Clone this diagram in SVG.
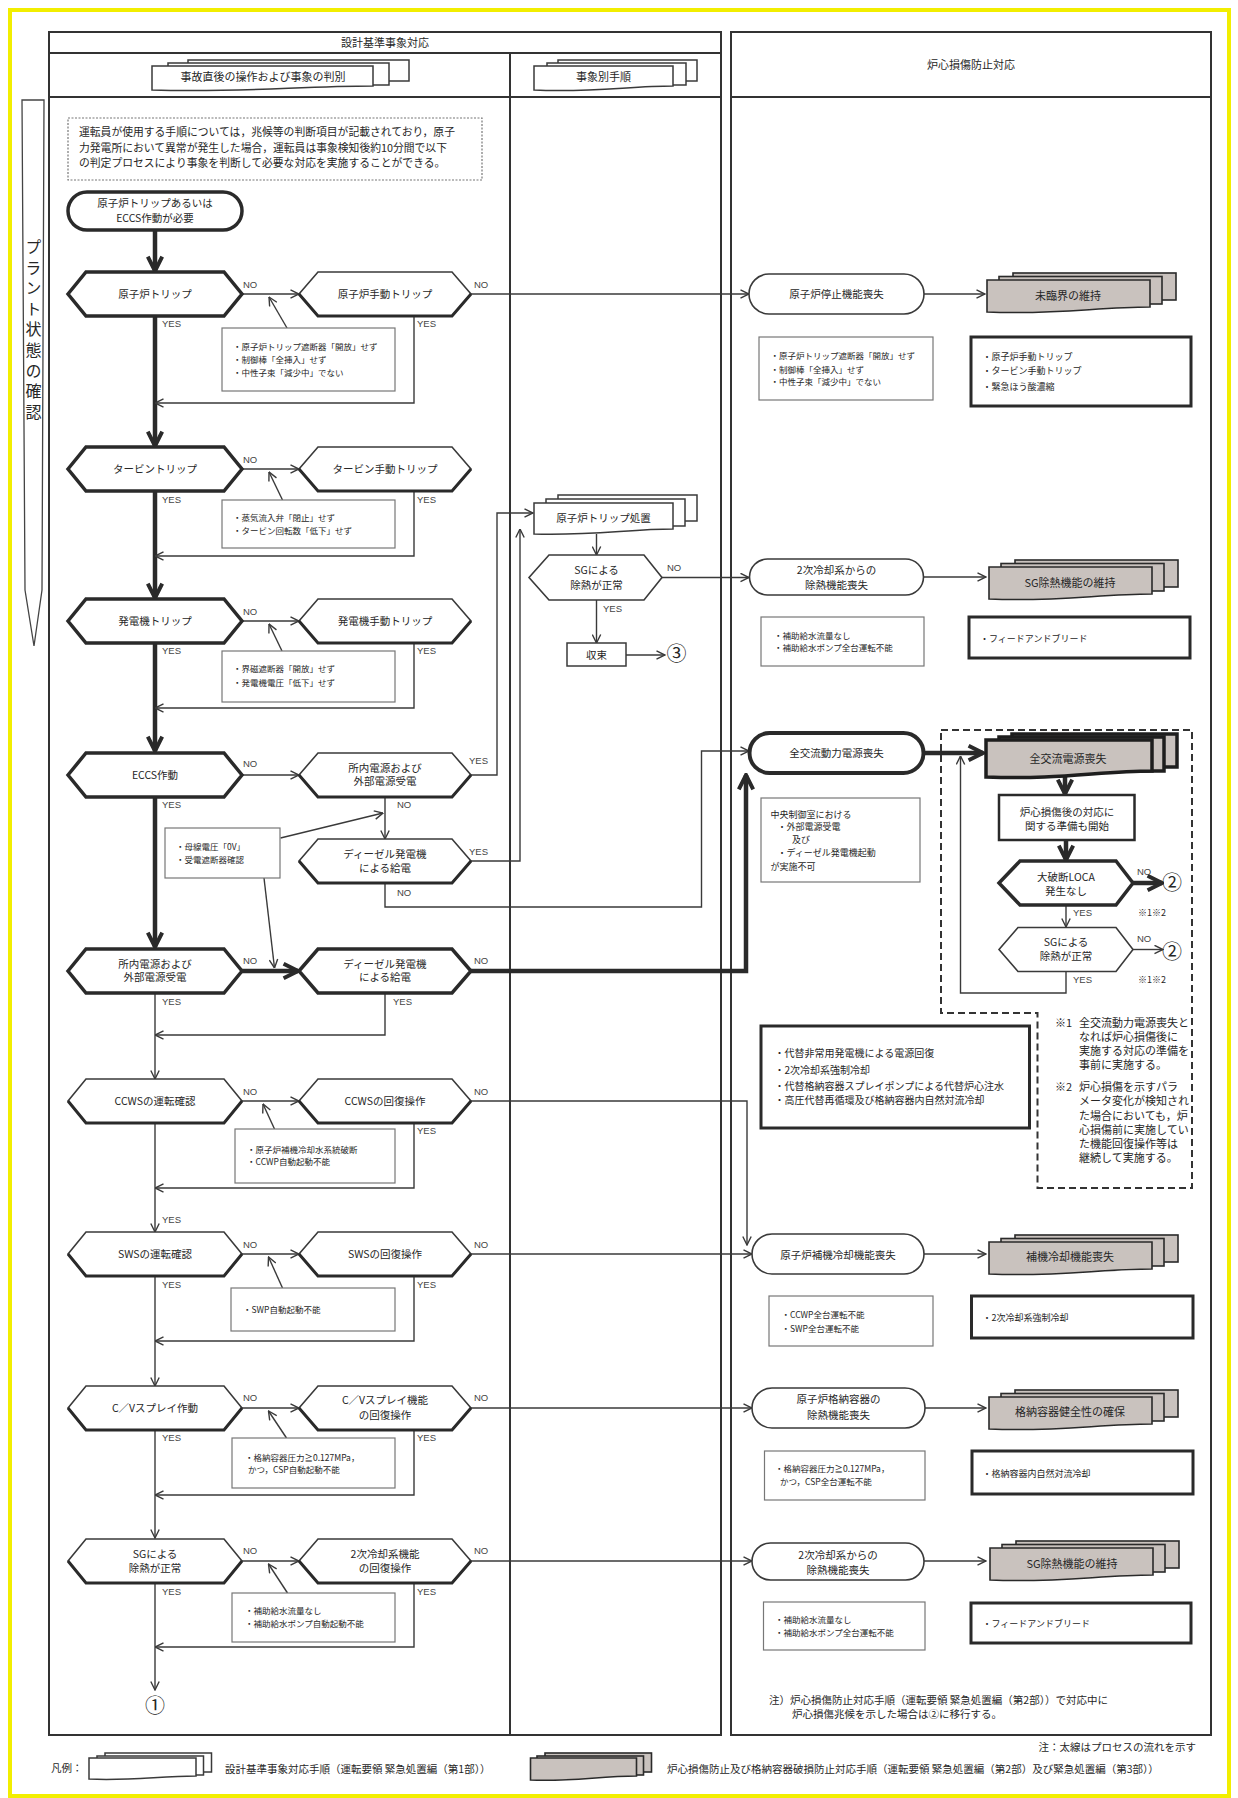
<svg xmlns="http://www.w3.org/2000/svg" xmlns:xlink="http://www.w3.org/1999/xlink" width="1238" height="1798" viewBox="0 0 1238 1798">
<style>
.t{font-family:"Noto Sans CJK JP","Noto Sans CJK SC",sans-serif;fill:#262626}
.m{text-anchor:middle}
.h{font-size:10.5px}
.c{font-size:8.5px}
.c9{font-size:9px}
.big{font-size:20px}
.yn{font-family:"Liberation Sans",Arial,sans-serif;font-size:9.5px;fill:#444}
.ln{stroke:#3a3a3a;stroke-width:1.4;fill:none}
.thk{stroke:#2a2a2a;stroke-width:4.5;fill:none}
.hb{fill:#fff;stroke:#2a2a2a;stroke-width:3.5;stroke-linejoin:miter}
.hn{fill:#fff;stroke:#3a3a3a;stroke-width:1.6}
.hs{fill:none;stroke:#2a2a2a;stroke-width:3}
.cb{fill:#fff;stroke:#777;stroke-width:1.2}
.tb{fill:#fff;stroke:#2a2a2a;stroke-width:3}
.st{fill:#fff;stroke:#3a3a3a;stroke-width:1.6}
.gd{fill:#c9c2be;stroke:#2a2a2a;stroke-width:1.6}
.wd{fill:#fff;stroke:#3a3a3a;stroke-width:1.5}
.fr{fill:none;stroke:#333;stroke-width:2}
</style>
<defs>
<marker id="ah" viewBox="0 0 10 10" refX="9.5" refY="5" markerWidth="10" markerHeight="10" markerUnits="userSpaceOnUse" orient="auto"><path d="M1,0.8 L9.5,5 L1,9.2" fill="none" stroke="#3a3a3a" stroke-width="1.4"/></marker>
<marker id="ahk" viewBox="0 0 10 10" refX="9" refY="5" markerWidth="18" markerHeight="18" markerUnits="userSpaceOnUse" orient="auto"><path d="M1,1 L9,5 L1,9" fill="none" stroke="#2a2a2a" stroke-width="2.2"/></marker>
<g id="gdoc">
<rect x="26" y="-7" width="163" height="27" class="gd"/>
<rect x="12" y="-3.5" width="163" height="27.5" class="gd"/>
<path d="M0,0 H163 V27 C110,27 70,35 0,32 Z" class="gd"/>
</g>
</defs>
<rect width="1238" height="1798" fill="#fff"/>
<rect x="10" y="10" width="1219" height="1786" fill="none" stroke="#f2ee00" stroke-width="4"/>

<g id="frames">
<rect x="49" y="32" width="672" height="1703" class="fr"/>
<line x1="49" y1="53" x2="721" y2="53" class="fr"/>
<line x1="49" y1="97" x2="721" y2="97" class="fr"/>
<line x1="510" y1="53" x2="510" y2="1735" class="fr"/>
<rect x="731" y="32" width="480" height="1703" class="fr"/>
<line x1="731" y1="97" x2="1211" y2="97" class="fr"/>
<text class="t m" x="385" y="47" font-size="11">設計基準事象対応</text>
<text class="t m" x="971" y="69" font-size="11">炉心損傷防止対応</text>
</g>

<g id="hdr-doc1">
<rect x="188" y="60" width="221" height="21" class="wd"/>
<rect x="168" y="63" width="221" height="22" class="wd"/>
<path d="M152,66 H373 V86 C300,86 240,93 152,90 Z" class="wd"/>
<text class="t m" x="263" y="81" font-size="11">事故直後の操作および事象の判別</text>
</g>
<g id="hdr-doc2">
<rect x="558" y="60" width="139" height="21" class="wd"/>
<rect x="547" y="63" width="139" height="22" class="wd"/>
<path d="M534,66 H673 V86 C630,86 590,93 534,90 Z" class="wd"/>
<text class="t m" x="603.5" y="81" font-size="11">事象別手順</text>
</g>

<g id="side-label">
<polygon points="22,100 44,100 42,590 34,646 25,590" fill="#fff" stroke="#444" stroke-width="1.3"/>
<text class="t" font-size="16" x="33.5" y="239" letter-spacing="4.6" style="writing-mode:vertical-rl">プラント状態の確認</text>
</g>

<g id="intro">
<rect x="68" y="118" width="414" height="62" fill="#fff" stroke="#777" stroke-width="1.2" stroke-dasharray="2,1.5"/>
<text class="t" font-size="10.8" x="79" y="136">運転員が使用する手順については，兆候等の判断項目が記載されており，原子</text>
<text class="t" font-size="10.8" x="79" y="152">力発電所において異常が発生した場合，運転員は事象検知後約10分間で以下</text>
<text class="t" font-size="10.8" x="79" y="167">の判定プロセスにより事象を判断して必要な対応を実施することができる。</text>
</g>

<g id="connectors">
<line x1="155" y1="230" x2="155" y2="271" class="thk" marker-end="url(#ahk)"/>
<line x1="155" y1="316" x2="155" y2="446" class="thk" marker-end="url(#ahk)"/>
<line x1="155" y1="491" x2="155" y2="598" class="thk" marker-end="url(#ahk)"/>
<line x1="155" y1="643" x2="155" y2="751" class="thk" marker-end="url(#ahk)"/>
<line x1="155" y1="797" x2="155" y2="947" class="thk" marker-end="url(#ahk)"/>
<line x1="242" y1="971" x2="298" y2="971" class="thk" marker-end="url(#ahk)"/>
<polyline points="471,971 746,971 746,775" class="thk" marker-end="url(#ahk)"/>
<line x1="924" y1="753" x2="983" y2="753" class="thk" marker-end="url(#ahk)"/>
<line x1="1065" y1="777" x2="1065" y2="794" class="thk" marker-end="url(#ahk)"/>
<line x1="1066" y1="840" x2="1066" y2="860" class="thk" marker-end="url(#ahk)"/>
<line x1="1133" y1="883" x2="1162" y2="883" class="thk" marker-end="url(#ahk)"/>
<line x1="155" y1="994" x2="155" y2="1079" class="ln" marker-end="url(#ah)"/>
<line x1="155" y1="1123" x2="155" y2="1232" class="ln" marker-end="url(#ah)"/>
<line x1="155" y1="1276" x2="155" y2="1386" class="ln" marker-end="url(#ah)"/>
<line x1="155" y1="1430" x2="155" y2="1538" class="ln" marker-end="url(#ah)"/>
<line x1="155" y1="1583" x2="155" y2="1690" class="ln" marker-end="url(#ah)"/>
<line x1="242" y1="294" x2="299" y2="294" class="ln" marker-end="url(#ah)"/>
<line x1="242" y1="469" x2="299" y2="469" class="ln" marker-end="url(#ah)"/>
<line x1="242" y1="621" x2="299" y2="621" class="ln" marker-end="url(#ah)"/>
<line x1="242" y1="775" x2="299" y2="775" class="ln" marker-end="url(#ah)"/>
<line x1="242" y1="1101" x2="299" y2="1101" class="ln" marker-end="url(#ah)"/>
<line x1="242" y1="1254" x2="299" y2="1254" class="ln" marker-end="url(#ah)"/>
<line x1="242" y1="1408" x2="299" y2="1408" class="ln" marker-end="url(#ah)"/>
<line x1="242" y1="1561" x2="299" y2="1561" class="ln" marker-end="url(#ah)"/>
<line x1="471" y1="294" x2="749" y2="294" class="ln" marker-end="url(#ah)"/>
<polyline points="471,1101 747,1101 747,1245" class="ln" marker-end="url(#ah)"/>
<line x1="471" y1="1254" x2="752" y2="1254" class="ln" marker-end="url(#ah)"/>
<line x1="471" y1="1408" x2="752" y2="1408" class="ln" marker-end="url(#ah)"/>
<line x1="471" y1="1561" x2="752" y2="1561" class="ln" marker-end="url(#ah)"/>
<polyline points="414,316 414,403 155,403" class="ln" marker-end="url(#ah)"/>
<polyline points="414,491 414,556 155,556" class="ln" marker-end="url(#ah)"/>
<polyline points="414,643 414,708 155,708" class="ln" marker-end="url(#ah)"/>
<polyline points="385,994 385,1035 155,1035" class="ln" marker-end="url(#ah)"/>
<polyline points="414,1123 414,1188 155,1188" class="ln" marker-end="url(#ah)"/>
<polyline points="414,1276 414,1341 155,1341" class="ln" marker-end="url(#ah)"/>
<polyline points="414,1430 414,1495 155,1495" class="ln" marker-end="url(#ah)"/>
<polyline points="414,1583 414,1647 155,1647" class="ln" marker-end="url(#ah)"/>
<polyline points="471,775 497,775 497,513 533,513" class="ln" marker-end="url(#ah)"/>
<line x1="385" y1="797" x2="385" y2="839" class="ln" marker-end="url(#ah)"/>
<polyline points="471,861 520,861 520,529" class="ln" marker-end="url(#ah)"/>
<polyline points="385,883 385,907 701.5,907 701.5,751 749,751" class="ln" marker-end="url(#ah)"/>
<line x1="596.5" y1="534" x2="596.5" y2="555" class="ln" marker-end="url(#ah)"/>
<line x1="662" y1="577.5" x2="749" y2="577.5" class="ln" marker-end="url(#ah)"/>
<line x1="596.5" y1="600" x2="596.5" y2="643" class="ln" marker-end="url(#ah)"/>
<line x1="626" y1="655" x2="665" y2="655" class="ln" marker-end="url(#ah)"/>
<line x1="924" y1="294" x2="985" y2="294" class="ln" marker-end="url(#ah)"/>
<line x1="924" y1="577" x2="986" y2="577" class="ln" marker-end="url(#ah)"/>
<line x1="924" y1="1254" x2="986" y2="1254" class="ln" marker-end="url(#ah)"/>
<line x1="925" y1="1408" x2="986" y2="1408" class="ln" marker-end="url(#ah)"/>
<line x1="924" y1="1561" x2="986" y2="1561" class="ln" marker-end="url(#ah)"/>
<line x1="1066" y1="905" x2="1066" y2="927" class="ln" marker-end="url(#ah)"/>
<line x1="1133" y1="949.5" x2="1163" y2="949.5" class="ln" marker-end="url(#ah)"/>
<polyline points="1066,972 1066,993 960.5,993 960.5,756" class="ln" marker-end="url(#ah)"/>
<line x1="287" y1="328" x2="269" y2="297" class="ln" marker-end="url(#ah)"/>
<line x1="282.5" y1="500" x2="269" y2="472" class="ln" marker-end="url(#ah)"/>
<line x1="282" y1="651" x2="269" y2="624" class="ln" marker-end="url(#ah)"/>
<line x1="280.5" y1="838" x2="383" y2="813" class="ln" marker-end="url(#ah)"/>
<line x1="264" y1="878" x2="274.5" y2="968" class="ln" marker-end="url(#ah)"/>
<line x1="274.5" y1="1129" x2="263" y2="1104" class="ln" marker-end="url(#ah)"/>
<line x1="282.5" y1="1288" x2="268.5" y2="1257" class="ln" marker-end="url(#ah)"/>
<line x1="286.5" y1="1438" x2="268.5" y2="1411" class="ln" marker-end="url(#ah)"/>
<line x1="287.5" y1="1593" x2="268.5" y2="1564" class="ln" marker-end="url(#ah)"/>
</g>

<g id="labels">
<text class="yn" x="243" y="288">NO</text><text class="yn" x="474" y="288">NO</text>
<text class="yn" x="162" y="327">YES</text><text class="yn" x="417" y="327">YES</text>
<text class="yn" x="243" y="463">NO</text>
<text class="yn" x="162" y="503">YES</text><text class="yn" x="417" y="503">YES</text>
<text class="yn" x="243" y="615">NO</text>
<text class="yn" x="162" y="654">YES</text><text class="yn" x="417" y="654">YES</text>
<text class="yn" x="243" y="767">NO</text><text class="yn" x="469" y="764">YES</text>
<text class="yn" x="162" y="808">YES</text><text class="yn" x="397" y="808">NO</text>
<text class="yn" x="469" y="855">YES</text><text class="yn" x="397" y="896">NO</text>
<text class="yn" x="243" y="964">NO</text><text class="yn" x="474" y="964">NO</text>
<text class="yn" x="162" y="1005">YES</text><text class="yn" x="393" y="1005">YES</text>
<text class="yn" x="243" y="1095">NO</text><text class="yn" x="474" y="1095">NO</text>
<text class="yn" x="417" y="1134">YES</text>
<text class="yn" x="162" y="1223">YES</text>
<text class="yn" x="243" y="1248">NO</text><text class="yn" x="474" y="1248">NO</text>
<text class="yn" x="162" y="1288">YES</text><text class="yn" x="417" y="1288">YES</text>
<text class="yn" x="243" y="1401">NO</text><text class="yn" x="474" y="1401">NO</text>
<text class="yn" x="162" y="1441">YES</text><text class="yn" x="417" y="1441">YES</text>
<text class="yn" x="243" y="1554">NO</text><text class="yn" x="474" y="1554">NO</text>
<text class="yn" x="162" y="1595">YES</text><text class="yn" x="417" y="1595">YES</text>
<text class="yn" x="667" y="571">NO</text><text class="yn" x="603" y="612">YES</text>
<text class="yn" x="1137" y="875">NO</text><text class="yn" x="1073" y="916">YES</text>
<text class="yn" x="1137" y="942">NO</text><text class="yn" x="1073" y="983">YES</text>
<text class="t" font-size="9" x="1138" y="916">※1※2</text>
<text class="t" font-size="9" x="1138" y="983">※1※2</text>
<text class="t m big" x="155" y="1713">①</text>
<text class="t m big" x="676.5" y="661">③</text>
<text class="t m big" x="1172" y="890">②</text>
<text class="t m big" x="1172" y="959">②</text>
</g>

<g id="start">
<rect x="68" y="192" width="174" height="38" rx="19" fill="#fff" stroke="#2a2a2a" stroke-width="3.5"/>
<text class="t m h" x="155" y="207">原子炉トリップあるいは</text>
<text class="t m h" x="155" y="222">ECCS作動が必要</text>
</g>

<g id="n-r1"><polygon points="68,294 86,272 224,272 242,294 224,316 86,316" class="hb"/><text class="t m h" x="155" y="298">原子炉トリップ</text></g>
<g id="n-r1b"><polygon points="299,294 318,272 452,272 471,294 452,316 318,316" class="hn"/><polyline points="299,294 318,316 452,316 471,294" class="hs"/><text class="t m h" x="385" y="298">原子炉手動トリップ</text></g>
<g id="n-r2"><polygon points="68,469 86,447 224,447 242,469 224,491 86,491" class="hb"/><text class="t m h" x="155" y="473">タービントリップ</text></g>
<g id="n-r2b"><polygon points="299,469 318,447 452,447 471,469 452,491 318,491" class="hn"/><polyline points="299,469 318,491 452,491 471,469" class="hs"/><text class="t m h" x="385" y="473">タービン手動トリップ</text></g>
<g id="n-r3"><polygon points="68,621 86,599 224,599 242,621 224,643 86,643" class="hb"/><text class="t m h" x="155" y="625">発電機トリップ</text></g>
<g id="n-r3b"><polygon points="299,621 318,599 452,599 471,621 452,643 318,643" class="hn"/><polyline points="299,621 318,643 452,643 471,621" class="hs"/><text class="t m h" x="385" y="625">発電機手動トリップ</text></g>
<g id="n-r4"><polygon points="68,775 86,753 224,753 242,775 224,797 86,797" class="hb"/><text class="t m h" x="155" y="779">ECCS作動</text></g>
<g id="n-r4b"><polygon points="299,775 318,753 452,753 471,775 452,797 318,797" class="hn"/><polyline points="299,775 318,797 452,797 471,775" class="hs"/><text class="t m h" x="385" y="772">所内電源および</text><text class="t m h" x="385" y="785">外部電源受電</text></g>
<g id="n-r4c"><polygon points="299,861 318,839 452,839 471,861 452,883 318,883" class="hn"/><polyline points="299,861 318,883 452,883 471,861" class="hs"/><text class="t m h" x="385" y="858">ディーゼル発電機</text><text class="t m h" x="385" y="872">による給電</text></g>
<g id="n-r5"><polygon points="68,971 86,949 224,949 242,971 224,993 86,993" class="hb"/><text class="t m h" x="155" y="968">所内電源および</text><text class="t m h" x="155" y="981">外部電源受電</text></g>
<g id="n-r5b"><polygon points="299,971 318,949 452,949 471,971 452,993 318,993" class="hb"/><text class="t m h" x="385" y="968">ディーゼル発電機</text><text class="t m h" x="385" y="981">による給電</text></g>
<g id="n-r6"><polygon points="68,1101 86,1079 224,1079 242,1101 224,1123 86,1123" class="hn"/><polyline points="68,1101 86,1123 224,1123 242,1101" class="hs"/><text class="t m h" x="155" y="1105">CCWSの運転確認</text></g>
<g id="n-r6b"><polygon points="299,1101 318,1079 452,1079 471,1101 452,1123 318,1123" class="hn"/><polyline points="299,1101 318,1123 452,1123 471,1101" class="hs"/><text class="t m h" x="385" y="1105">CCWSの回復操作</text></g>
<g id="n-r7"><polygon points="68,1254 86,1232 224,1232 242,1254 224,1276 86,1276" class="hn"/><polyline points="68,1254 86,1276 224,1276 242,1254" class="hs"/><text class="t m h" x="155" y="1258">SWSの運転確認</text></g>
<g id="n-r7b"><polygon points="299,1254 318,1232 452,1232 471,1254 452,1276 318,1276" class="hn"/><polyline points="299,1254 318,1276 452,1276 471,1254" class="hs"/><text class="t m h" x="385" y="1258">SWSの回復操作</text></g>
<g id="n-r8"><polygon points="68,1408 86,1386 224,1386 242,1408 224,1430 86,1430" class="hn"/><polyline points="68,1408 86,1430 224,1430 242,1408" class="hs"/><text class="t m h" x="155" y="1412">C／Vスプレイ作動</text></g>
<g id="n-r8b"><polygon points="299,1408 318,1386 452,1386 471,1408 452,1430 318,1430" class="hn"/><polyline points="299,1408 318,1430 452,1430 471,1408" class="hs"/><text class="t m h" x="385" y="1404">C／Vスプレイ機能</text><text class="t m h" x="385" y="1419">の回復操作</text></g>
<g id="n-r9"><polygon points="68,1561 86,1539 224,1539 242,1561 224,1583 86,1583" class="hn"/><polyline points="68,1561 86,1583 224,1583 242,1561" class="hs"/><text class="t m h" x="155" y="1558">SGによる</text><text class="t m h" x="155" y="1572">除熱が正常</text></g>
<g id="n-r9b"><polygon points="299,1561 318,1539 452,1539 471,1561 452,1583 318,1583" class="hn"/><polyline points="299,1561 318,1583 452,1583 471,1561" class="hs"/><text class="t m h" x="385" y="1558">2次冷却系機能</text><text class="t m h" x="385" y="1572">の回復操作</text></g>

<g id="cond-left">
<rect x="222" y="328" width="173" height="63" class="cb"/>
<text class="t c" x="233" y="350">・原子炉トリップ遮断器「開放」せず</text>
<text class="t c" x="233" y="363">・制御棒「全挿入」せず</text>
<text class="t c" x="233" y="375.5">・中性子束「減少中」でない</text>
<rect x="222" y="500" width="173" height="48" class="cb"/>
<text class="t c" x="233" y="521">・蒸気流入弁「閉止」せず</text>
<text class="t c" x="233" y="534">・タービン回転数「低下」せず</text>
<rect x="222" y="651" width="173" height="51" class="cb"/>
<text class="t c" x="233" y="672">・界磁遮断器「開放」せず</text>
<text class="t c" x="233" y="686">・発電機電圧「低下」せず</text>
<rect x="165" y="828" width="115" height="50" class="cb"/>
<text class="t c" x="176" y="850">・母線電圧「0V」</text>
<text class="t c" x="176" y="863">・受電遮断器確認</text>
<rect x="235" y="1129" width="160" height="54" class="cb"/>
<text class="t c" x="247" y="1152.5">・原子炉補機冷却水系統破断</text>
<text class="t c" x="247" y="1165">・CCWP自動起動不能</text>
<rect x="231" y="1288" width="164" height="43" class="cb"/>
<text class="t c" x="243" y="1312.5">・SWP自動起動不能</text>
<rect x="232" y="1438" width="163" height="50" class="cb"/>
<text class="t c" x="245" y="1460.5">・格納容器圧力≧0.127MPa，</text>
<text class="t c" x="248" y="1473">かつ，CSP自動起動不能</text>
<rect x="232" y="1593" width="163" height="49" class="cb"/>
<text class="t c" x="245" y="1614">・補助給水流量なし</text>
<text class="t c" x="245" y="1626.5">・補助給水ポンプ自動起動不能</text>
</g>

<g id="n-trip-proc">
<rect x="558" y="495" width="139" height="26" class="wd"/>
<rect x="546" y="499" width="139" height="27" class="wd"/>
<path d="M534,503 H673 V529 C630,529 590,536 534,534 Z" class="wd"/>
<text class="t m h" x="603.5" y="522">原子炉トリップ処置</text>
</g>
<g id="n-mid-sg"><polygon points="529,577.5 549,555 644,555 662,577.5 644,600 549,600" class="hn"/><text class="t m h" x="596.5" y="574">SGによる</text><text class="t m h" x="596.5" y="588.5">除熱が正常</text></g>
<g id="n-converge"><rect x="567" y="643" width="59" height="23" fill="#fff" stroke="#3a3a3a" stroke-width="1.5"/><text class="t m h" x="596.5" y="658.5">収束</text></g>

<g id="n-s1"><rect x="749" y="274" width="175" height="40" rx="20" class="st"/><text class="t m h" x="836.5" y="298">原子炉停止機能喪失</text></g>
<g id="n-g1"><use xlink:href="#gdoc" x="987" y="280"/><text class="t m" font-size="11" x="1068" y="300">未臨界の維持</text></g>
<g id="n-c1"><rect x="759" y="337" width="174" height="63" class="cb"/>
<text class="t c" x="770.5" y="359">・原子炉トリップ遮断器「開放」せず</text>
<text class="t c" x="770.5" y="372.5">・制御棒「全挿入」せず</text>
<text class="t c" x="770.5" y="385">・中性子束「減少中」でない</text></g>
<g id="n-t1"><rect x="971" y="337" width="220" height="69" class="tb"/>
<text class="t c9" x="982.5" y="359.5">・原子炉手動トリップ</text>
<text class="t c9" x="982.5" y="374">・タービン手動トリップ</text>
<text class="t c9" x="982.5" y="390">・緊急ほう酸濃縮</text></g>

<g id="n-s2"><rect x="749.5" y="559" width="174" height="36" rx="18" class="st"/><text class="t m h" x="836.5" y="574">2次冷却系からの</text><text class="t m h" x="836.5" y="588.5">除熱機能喪失</text></g>
<g id="n-g2"><use xlink:href="#gdoc" x="989" y="567"/><text class="t m" font-size="11" x="1070" y="587">SG除熱機能の維持</text></g>
<g id="n-c2"><rect x="761" y="617" width="163" height="49" class="cb"/>
<text class="t c" x="774" y="639">・補助給水流量なし</text>
<text class="t c" x="774" y="650.5">・補助給水ポンプ全台運転不能</text></g>
<g id="n-t2"><rect x="969" y="617" width="221" height="41" class="tb"/><text class="t c9" x="980" y="641.5">・フィードアンドブリード</text></g>

<g id="n-s3"><rect x="749.5" y="733" width="174" height="40" rx="20" fill="#fff" stroke="#2a2a2a" stroke-width="4"/><text class="t m h" x="836.5" y="757">全交流動力電源喪失</text></g>
<g id="n-g3">
<rect x="1012" y="734" width="165" height="33" fill="#c9c2be" stroke="#1e1e1e" stroke-width="3.5"/>
<rect x="999" y="737" width="165" height="34" fill="#c9c2be" stroke="#1e1e1e" stroke-width="3.5"/>
<path d="M986,740 H1152 V771 C1100,771 1060,780 986,777 Z" fill="#c9c2be" stroke="#1e1e1e" stroke-width="3.5"/>
<text class="t m" font-size="11" x="1068" y="763">全交流電源喪失</text></g>
<g id="n-c3"><rect x="761" y="798" width="159" height="84" class="cb"/>
<text class="t c9" x="770.5" y="817.5">中央制御室における</text>
<text class="t c9" x="777.5" y="830">・外部電源受電</text>
<text class="t c9" x="792" y="842.5">及び</text>
<text class="t c9" x="777.5" y="856">・ディーゼル発電機起動</text>
<text class="t c9" x="770.5" y="870">が実施不可</text></g>

<g id="n-region">
<path d="M941,730 H1192 V1188 H1037.5 V1013 H941 Z" fill="none" stroke="#333" stroke-width="2" stroke-dasharray="7,4"/>
</g>
<g id="n-prep"><rect x="999" y="795" width="135.5" height="45" fill="#fff" stroke="#2a2a2a" stroke-width="2.5"/><text class="t m h" x="1067" y="815.5">炉心損傷後の対応に</text><text class="t m h" x="1067" y="829.5">関する準備も開始</text></g>
<g id="n-loca"><polygon points="999,883 1020,861 1116,861 1133,883 1116,905 1020,905" class="hb"/><text class="t m h" x="1066" y="880.5">大破断LOCA</text><text class="t m h" x="1066" y="894.5">発生なし</text></g>
<g id="n-sg2"><polygon points="999,949.5 1018,927.5 1116,927.5 1133,949.5 1116,971.5 1018,971.5" class="hn"/><text class="t m h" x="1066" y="945.5">SGによる</text><text class="t m h" x="1066" y="960">除熱が正常</text></g>

<g id="notes-star">
<text class="t" font-size="11" x="1055" y="1026.5">※1</text>
<text class="t" font-size="11" x="1079" y="1026.5">全交流動力電源喪失と</text>
<text class="t" font-size="11" x="1079" y="1040.5">なれば炉心損傷後に</text>
<text class="t" font-size="11" x="1079" y="1054.5">実施する対応の準備を</text>
<text class="t" font-size="11" x="1079" y="1069">事前に実施する。</text>
<text class="t" font-size="11" x="1055" y="1091">※2</text>
<text class="t" font-size="11" x="1079" y="1091">炉心損傷を示すパラ</text>
<text class="t" font-size="11" x="1079" y="1105.3">メータ変化が検知され</text>
<text class="t" font-size="11" x="1079" y="1119.5">た場合においても，炉</text>
<text class="t" font-size="11" x="1079" y="1133.7">心損傷前に実施してい</text>
<text class="t" font-size="11" x="1079" y="1147.9">た機能回復操作等は</text>
<text class="t" font-size="11" x="1079" y="1162">継続して実施する。</text>
</g>

<g id="n-t3"><rect x="761" y="1026" width="268.5" height="102" class="tb"/>
<text class="t" font-size="10" x="774.5" y="1057">・代替非常用発電機による電源回復</text>
<text class="t" font-size="10" x="774.5" y="1073.5">・2次冷却系強制冷却</text>
<text class="t" font-size="10" x="774.5" y="1089.5">・代替格納容器スプレイポンプによる代替炉心注水</text>
<text class="t" font-size="10" x="774.5" y="1103.5">・高圧代替再循環及び格納容器内自然対流冷却</text></g>

<g id="n-s4"><rect x="752" y="1234" width="172" height="40" rx="20" class="st"/><text class="t m h" x="838" y="1258.5">原子炉補機冷却機能喪失</text></g>
<g id="n-g4"><use xlink:href="#gdoc" x="989" y="1242"/><text class="t m" font-size="11" x="1070" y="1261">補機冷却機能喪失</text></g>
<g id="n-c4"><rect x="769" y="1296" width="164" height="50" class="cb"/>
<text class="t c" x="781.5" y="1318">・CCWP全台運転不能</text>
<text class="t c" x="781.5" y="1331.5">・SWP全台運転不能</text></g>
<g id="n-t4"><rect x="971.5" y="1296" width="221.5" height="42" class="tb"/><text class="t c9" x="982.5" y="1320.5">・2次冷却系強制冷却</text></g>

<g id="n-s5"><rect x="752" y="1388" width="173" height="40" rx="20" class="st"/><text class="t m h" x="838.5" y="1403">原子炉格納容器の</text><text class="t m h" x="838.5" y="1418.5">除熱機能喪失</text></g>
<g id="n-g5"><use xlink:href="#gdoc" x="989" y="1397"/><text class="t m" font-size="11" x="1070" y="1416">格納容器健全性の確保</text></g>
<g id="n-c5"><rect x="764.5" y="1451" width="160.5" height="49" class="cb"/>
<text class="t c" x="775" y="1471.5">・格納容器圧力≧0.127MPa，</text>
<text class="t c" x="780" y="1485">かつ，CSP全台運転不能</text></g>
<g id="n-t5"><rect x="972" y="1451" width="221" height="43" class="tb"/><text class="t c9" x="982.5" y="1477">・格納容器内自然対流冷却</text></g>

<g id="n-s6"><rect x="752" y="1543" width="172" height="37" rx="18.5" class="st"/><text class="t m h" x="838" y="1558.5">2次冷却系からの</text><text class="t m h" x="838" y="1573.5">除熱機能喪失</text></g>
<g id="n-g6"><use xlink:href="#gdoc" x="990" y="1548"/><text class="t m" font-size="11" x="1072" y="1568">SG除熱機能の維持</text></g>
<g id="n-c6"><rect x="763.5" y="1602" width="161.5" height="48" class="cb"/>
<text class="t c" x="775" y="1623">・補助給水流量なし</text>
<text class="t c" x="775" y="1636">・補助給水ポンプ全台運転不能</text></g>
<g id="n-t6"><rect x="971" y="1603" width="220" height="40" class="tb"/><text class="t c9" x="982.5" y="1626.5">・フィードアンドブリード</text></g>

<g id="footnotes">
<text class="t" font-size="10.5" x="769" y="1704">注）炉心損傷防止対応手順（運転要領 緊急処置編（第2部））で対応中に</text>
<text class="t" font-size="10.5" x="792" y="1718">炉心損傷兆候を示した場合は②に移行する。</text>
<text class="t" font-size="10.5" x="1196" y="1750.5" text-anchor="end">注：太線はプロセスの流れを示す</text>
</g>

<g id="legend">
<text class="t" font-size="10.5" x="51" y="1772">凡例：</text>
<rect x="105" y="1753" width="106.5" height="19" class="wd"/>
<rect x="97" y="1756" width="106.5" height="19" class="wd"/>
<path d="M89,1758 H196 V1776 C160,1776 130,1781 89,1779 Z" class="wd"/>
<text class="t" font-size="10.5" x="225" y="1773">設計基準事象対応手順（運転要領 緊急処置編（第1部））</text>
<rect x="545" y="1753" width="106.5" height="19" class="gd"/>
<rect x="537" y="1756" width="106.5" height="19" class="gd"/>
<path d="M530.5,1758 H636.5 V1776 C600,1776 570,1782 530.5,1780 Z" class="gd"/>
<text class="t" font-size="10.5" x="667" y="1773">炉心損傷防止及び格納容器破損防止対応手順（運転要領 緊急処置編（第2部）及び緊急処置編（第3部））</text>
</g>
</svg>
